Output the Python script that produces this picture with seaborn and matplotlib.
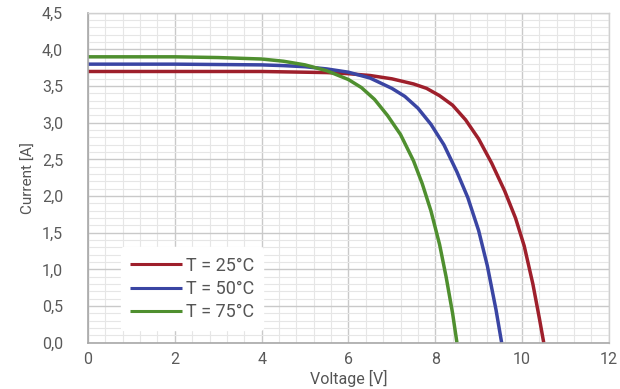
import numpy as np
import pandas as pd
import seaborn as sns
import matplotlib.pyplot as plt
from matplotlib.ticker import MultipleLocator, FuncFormatter

# Data
v_25 = [0, 1, 2, 3, 4, 5, 5.5, 6, 6.5, 7, 7.5, 7.8, 8.1, 8.4, 8.7, 9.0, 9.3, 9.6, 9.85, 10.05, 10.25, 10.4, 10.5]
i_25 = [3.70, 3.70, 3.70, 3.70, 3.70, 3.69, 3.685, 3.67, 3.645, 3.60, 3.53, 3.47, 3.37, 3.24, 3.04, 2.78, 2.45, 2.07, 1.70, 1.32, 0.80, 0.33, 0.0]
v_50 = [0, 2, 4, 4.5, 5, 5.5, 6, 6.5, 7, 7.3, 7.6, 7.9, 8.2, 8.5, 8.75, 9.0, 9.2, 9.4, 9.53]
i_50 = [3.80, 3.80, 3.79, 3.78, 3.765, 3.735, 3.69, 3.61, 3.47, 3.36, 3.20, 2.98, 2.70, 2.33, 1.98, 1.53, 1.05, 0.45, 0.0]
v_75 = [0, 2, 3, 3.5, 4, 4.5, 5, 5.5, 6, 6.3, 6.6, 6.9, 7.2, 7.5, 7.7, 7.9, 8.1, 8.25, 8.4, 8.5]
i_75 = [3.90, 3.90, 3.89, 3.88, 3.87, 3.84, 3.79, 3.71, 3.59, 3.48, 3.32, 3.10, 2.84, 2.48, 2.17, 1.80, 1.34, 0.90, 0.40, 0.0]
labels = ["T = 25°C", "T = 50°C", "T = 75°C"]
colors = ["#9e1f2b", "#3a45a3", "#4f8f2f"]

df = pd.concat([
    pd.DataFrame({"Voltage": v_25, "Current": i_25, "T": labels[0]}),
    pd.DataFrame({"Voltage": v_50, "Current": i_50, "T": labels[1]}),
    pd.DataFrame({"Voltage": v_75, "Current": i_75, "T": labels[2]}),
])

sns.set_style("white")
plt.rcParams['font.family'] = ['Roboto', 'DejaVu Sans']

fig = plt.figure(figsize=(6.2, 3.89), dpi=100)
ax = fig.add_axes([0.142, 0.119, 0.840, 0.848])

sns.lineplot(data=df, x="Voltage", y="Current", hue="T", palette=colors,
             linewidth=2.5, ax=ax, sort=False)
for ln in ax.get_lines():
    ln.set_solid_joinstyle("round")
    ln.set_solid_capstyle("butt")

ax.set_xlim(0, 12)
ax.set_ylim(0, 4.5)
ax.xaxis.set_major_locator(MultipleLocator(2))
ax.xaxis.set_minor_locator(MultipleLocator(0.4))
ax.yaxis.set_major_locator(MultipleLocator(0.5))
ax.yaxis.set_minor_locator(MultipleLocator(0.1))
ax.yaxis.set_major_formatter(FuncFormatter(lambda v, p: f"{v:.1f}".replace(".", ",")))
ax.xaxis.set_major_formatter(FuncFormatter(lambda v, p: f"{v:.0f}"))

ax.grid(which="major", color="#c9c9c9", linewidth=1.0)
ax.grid(which="minor", color="#e6e6e6", linewidth=0.8)
ax.set_axisbelow(True)
for s in ["top", "right"]:
    ax.spines[s].set_color("#d0d0d0")
    ax.spines[s].set_linewidth(1.0)
for s in ["left", "bottom"]:
    ax.spines[s].set_color("#a8a8a8")
    ax.spines[s].set_linewidth(1.2)

ax.tick_params(which="both", length=0, colors="#5a5a5a", labelsize=11.5)
ax.tick_params(axis="y", pad=18)
ax.tick_params(axis="x", pad=7)

ax.set_xlabel("Voltage [V]", fontsize=11.5, color="#555555", labelpad=2)
ax.set_ylabel("Current [A]", fontsize=11, color="#555555", labelpad=4, fontstretch="condensed")

leg = ax.legend(loc="lower left", bbox_to_anchor=(0.045, 0.01), frameon=True,
                fontsize=13, handlelength=2.9, handletextpad=0.2,
                labelspacing=0.3, borderpad=0.5)
leg.get_frame().set_facecolor("white")
leg.get_frame().set_edgecolor("white")
leg.get_frame().set_alpha(1.0)
for t in leg.get_texts():
    t.set_color("#555555")
for h in leg.get_lines():
    h.set_linewidth(2.2)

fig.savefig("out.png", dpi=100)
